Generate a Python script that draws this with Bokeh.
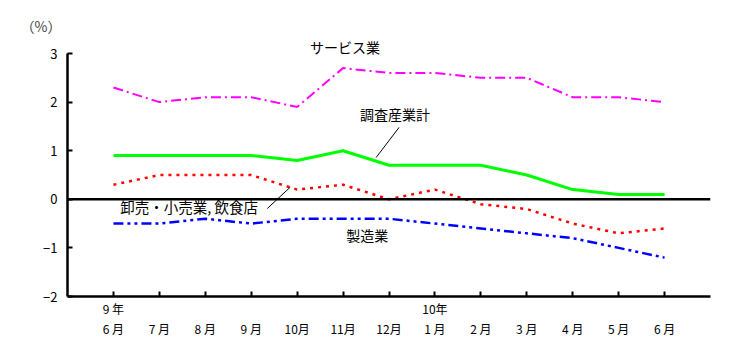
from bokeh.plotting import figure
from bokeh.models import Label, Span, FixedTicker
from bokeh.embed import file_html
from bokeh.resources import INLINE

# ---- data ----
months = ["6 月", "7 月", "8 月", "9 月", "10月", "11月", "12月",
          "1 月", "2 月", "3 月", "4 月", "5 月", "6 月"]
years = ["9 年", "", "", "", "", "", "", "10年", "", "", "", "", ""]
x_idx = list(range(len(months)))

services = [2.3, 2.0, 2.1, 2.1, 1.9, 2.7, 2.6, 2.6, 2.5, 2.5, 2.1, 2.1, 2.0]
total = [0.9, 0.9, 0.9, 0.9, 0.8, 1.0, 0.7, 0.7, 0.7, 0.5, 0.2, 0.1, 0.1]
wholesale = [0.3, 0.5, 0.5, 0.5, 0.2, 0.3, 0.0, 0.2, -0.1, -0.2, -0.5, -0.7, -0.6]
manufacturing = [-0.5, -0.5, -0.4, -0.5, -0.4, -0.4, -0.4, -0.5, -0.6, -0.7, -0.8, -1.0, -1.2]

y_ticks = [-2, -1, 0, 1, 2, 3]

FONT = "Noto Sans CJK JP"

p = figure(width=740, height=360, x_range=(-1, 13), y_range=(-2, 3.35),
           output_backend="svg", toolbar_location=None,
           min_border_left=67, min_border_top=36, min_border_right=30,
           min_border_bottom=64)
p.outline_line_color = None
p.xgrid.visible = False
p.ygrid.visible = False
p.background_fill_color = "white"

# unit title, top left
p.title.text = "（%）"
p.title.text_font = FONT
p.title.text_font_size = "14px"
p.title.text_font_style = "normal"
p.title.align = "left"
p.title.offset = -47
p.title.standoff = 1

# axes
for ax in (p.xaxis[0], p.yaxis[0]):
    ax.axis_line_width = 2.5
    ax.axis_line_color = "black"
    ax.major_tick_line_width = 2
    ax.major_tick_line_color = "black"
    ax.major_tick_in = 5
    ax.major_tick_out = 0
    ax.minor_tick_line_color = None
    ax.major_label_text_font = FONT
    ax.major_label_text_color = "black"

p.yaxis.ticker = FixedTicker(ticks=y_ticks)
p.yaxis.bounds = (-2, 3)
p.yaxis.major_label_text_font_size = "13px"
p.yaxis.major_label_standoff = 10

p.xaxis.ticker = FixedTicker(ticks=x_idx)
p.xaxis.major_label_overrides = {
    i: (years[i] if years[i] else " ") + "\n" + months[i] for i in x_idx
}
p.xaxis.major_label_text_font_size = "12px"
p.xaxis.major_label_standoff = 3

# zero line
p.add_layout(Span(location=0, dimension="width", line_color="black", line_width=2.5))

# series
p.line(x_idx, services, line_color="#FF00FF", line_width=2, line_dash="10 4 2 4")
p.line(x_idx, total, line_color="#00FF00", line_width=3)
p.line(x_idx, wholesale, line_color="#FF0000", line_width=2.5, line_dash="3 5")
p.line(x_idx, manufacturing, line_color="#0000FF", line_width=2.5, line_dash="10 4 3 4 3 4")

# leader lines
p.line([6.22, 5.72], [1.48, 0.86], line_color="black", line_width=1)
p.line([3.35, 3.85], [-0.19, 0.25], line_color="black", line_width=1)

# labels
def lab(x, y, t, size="14px", align="left"):
    p.add_layout(Label(x=x, y=y, text=t, text_font=FONT, text_font_size=size,
                       text_align=align, text_baseline="middle", text_color="black"))

lab(4.28, 3.14, "サービス業")
lab(5.37, 1.75, "調査産業計")
lab(0.15, -0.14, "卸売・小売業, 飲食店", "14.5px")
lab(5.07, -0.74, "製造業")

open("out.html", "w").write(file_html(p, INLINE))
